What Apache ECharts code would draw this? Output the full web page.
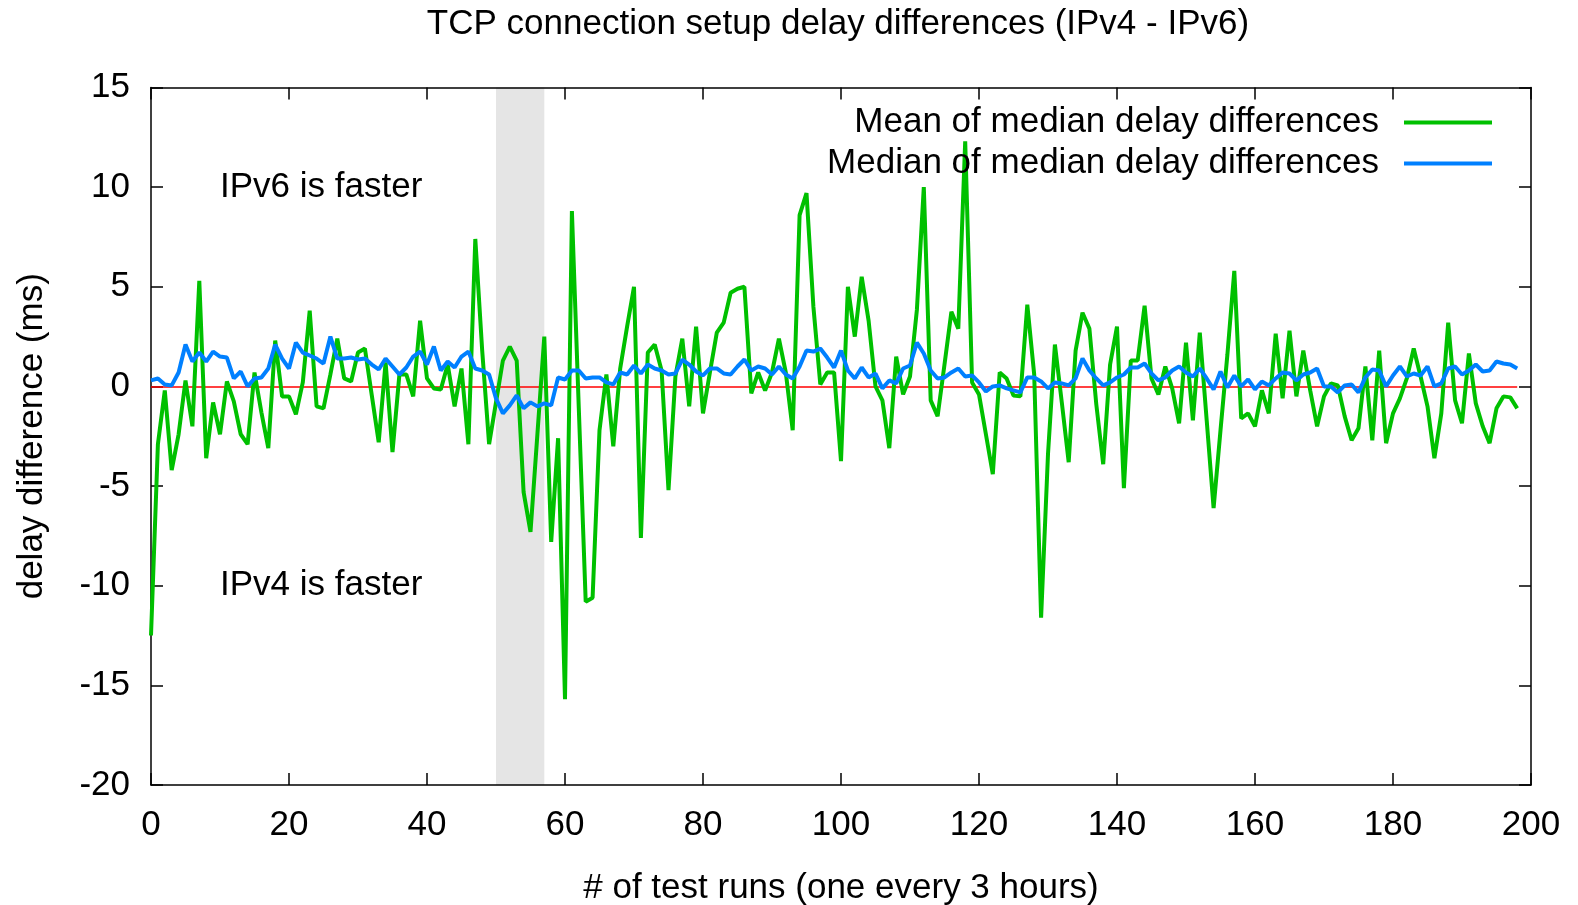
<!DOCTYPE html>
<html>
<head>
<meta charset="utf-8">
<title>TCP connection setup delay differences</title>
<script src="https://cdn.jsdelivr.net/npm/echarts@6/dist/echarts.min.js"></script>
<style>
  html, body { margin: 0; padding: 0; background: #fff; }
  #chart { width: 1578px; height: 905px; }
</style>
</head>
<body>
<div id="chart"></div>
<script>
// mean of the per-run median delay differences (ms), one value per test run
const meanDiff = [
  -12.5, -2.9, -0.2, -4.2, -2.4, 0.3, -2.0, 5.3, -3.6, -0.8,
  -2.4, 0.25, -0.75, -2.4, -2.9, 0.7, -1.3, -3.1, 2.3, -0.5,
  -0.5, -1.4, 0.2, 3.8, -1.0, -1.1, 0.6, 2.4, 0.4, 0.25,
  1.7, 1.9, -0.45, -2.8, 1.2, -3.3, 0.6, 0.6, -0.5, 3.3,
  0.4, -0.1, -0.15, 1.1, -1.0, 0.9, -2.9, 7.4, 1.8, -2.9,
  -0.8, 1.3, 2.0, 1.3, -5.3, -7.3, -2.4, 2.5, -7.8, -2.6,
  -15.7, 8.8, -1.1, -10.8, -10.6, -2.2, 0.6, -3.0, 0.9, 3.0,
  5.0, -7.6, 1.7, 2.1, 0.8, -5.2, 0.5, 2.4, -1.0, 3.0,
  -1.35, 0.7, 2.7, 3.2, 4.7, 4.9, 5.0, -0.35, 0.7, -0.2,
  0.7, 2.4, 0.7, -2.2, 8.6, 9.7, 4.0, 0.1, 0.7, 0.7,
  -3.75, 5.0, 2.5, 5.5, 3.3, 0.0, -0.7, -3.1, 1.5, -0.4,
  0.5, 3.85, 10.0, -0.7, -1.5, 1.1, 3.75, 2.9, 12.3, 0.2,
  -0.4, -2.4, -4.4, 0.7, 0.4, -0.45, -0.5, 4.1, 0.6, -11.6,
  -3.4, 2.1, -0.8, -3.8, 1.8, 3.7, 2.9, -0.9, -3.9, 1.1,
  3.0, -5.1, 1.3, 1.3, 4.05, 0.4, -0.4, 1.0, -0.1, -1.85,
  2.2, -1.7, 2.7, -1.7, -6.1, -2.2, 1.6, 5.8, -1.6, -1.35,
  -2.0, -0.2, -1.35, 2.65, -0.6, 2.8, -0.5, 1.8, -0.2, -2.0,
  -0.5, 0.15, 0.05, -1.5, -2.7, -2.1, 1.0, -2.7, 1.8, -2.85,
  -1.35, -0.6, 0.4, 1.9, 0.5, -1.0, -3.6, -1.35, 3.2, -0.7,
  -1.85, 1.65, -0.85, -2.0, -2.85, -1.1, -0.5, -0.55, -1.1
];

// median of the per-run median delay differences (ms)
const medianDiff = [
  0.3, 0.4, 0.1, 0.05, 0.7, 2.1, 1.25, 1.7, 1.25, 1.75,
  1.5, 1.45, 0.4, 0.75, 0.0, 0.4, 0.45, 0.9, 2.1, 1.4,
  0.9, 2.2, 1.7, 1.55, 1.4, 1.15, 2.5, 1.4, 1.4, 1.45,
  1.35, 1.4, 1.1, 0.85, 1.4, 1.0, 0.6, 0.95, 1.5, 1.75,
  1.1, 2.0, 0.8, 1.25, 0.95, 1.5, 1.75, 0.9, 0.8, 0.6,
  -0.6, -1.35, -0.95, -0.45, -1.1, -0.8, -1.0, -0.85, -0.95, 0.45,
  0.35, 0.8, 0.8, 0.4, 0.45, 0.45, 0.2, 0.1, 0.7, 0.6,
  1.05, 0.65, 1.1, 0.9, 0.8, 0.6, 0.65, 1.35, 1.1, 0.75,
  0.55, 0.9, 0.9, 0.65, 0.6, 1.0, 1.35, 0.8, 1.0, 0.9,
  0.6, 1.0, 0.6, 0.4, 1.0, 1.8, 1.75, 1.9, 1.45, 0.95,
  1.8, 0.8, 0.4, 0.95, 0.45, 0.65, -0.1, 0.3, 0.15, 0.9,
  1.05, 2.2, 1.65, 0.8, 0.4, 0.45, 0.7, 0.9, 0.5, 0.55,
  0.2, -0.25, 0.0, 0.05, -0.1, -0.2, -0.3, 0.45, 0.45, 0.25,
  -0.1, 0.2, 0.15, 0.05, 0.4, 1.4, 0.8, 0.4, 0.05, 0.2,
  0.45, 0.6, 0.95, 0.95, 1.15, 0.65, 0.3, 0.45, 0.8, 1.0,
  0.7, 0.5, 0.9, 0.4, -0.15, 0.75, -0.05, 0.55, 0.0, 0.35,
  -0.15, 0.25, 0.05, 0.4, 0.7, 0.65, 0.3, 0.6, 0.7, 0.9,
  0.0, 0.0, -0.3, 0.05, 0.1, -0.3, 0.45, 0.85, 0.8, 0.0,
  0.55, 1.0, 0.5, 0.65, 0.55, 1.0, 0.0, 0.15, 0.9, 1.0,
  0.6, 0.8, 1.1, 0.75, 0.8, 1.25, 1.15, 1.1, 0.9
];

const seriesNames = ["Mean of median delay differences", "Median of median delay differences"];
const outageRuns = [50, 57]; // grey band: runs with missing IPv6
const notes = [
  { text: "IPv6 is faster", run: 10, delay: 10 },
  { text: "IPv4 is faster", run: 10, delay: -10 },
];

const FONT = '"Liberation Sans", Arial, Helvetica, sans-serif';
const FS = 35;
const lastRun = meanDiff.length - 1;

const chart = echarts.init(document.getElementById("chart"));

function frameAxis(extra) {
  return Object.assign({
    type: "value",
    axisLine: { show: true, onZero: false, lineStyle: { color: "#000", width: 1.5 } },
    axisTick: { show: true, inside: true, length: 12, lineStyle: { color: "#000", width: 1.5 } },
    splitLine: { show: false },
  }, extra);
}

const option = {
  animation: false,
  backgroundColor: "#fff",
  textStyle: { fontFamily: FONT },
  grid: { left: 151, right: 47, top: 87.5, bottom: 120, outerBoundsMode: "none" },
  legend: {
    data: seriesNames,
    orient: "vertical",
    right: 81,
    top: 100,
    align: "right",
    icon: "rect",
    itemWidth: 88,
    itemHeight: 4,
    itemGap: 6,
    textStyle: { fontSize: FS, lineHeight: FS, color: "#000", fontFamily: FONT, padding: [0, 20, 0, 0] },
  },
  xAxis: [
    frameAxis({
      min: 0, max: 200, interval: 20, position: "bottom",
      axisLabel: { color: "#000", fontSize: FS, fontFamily: FONT, margin: 23 },
      name: "# of test runs (one every 3 hours)",
      nameLocation: "middle",
      nameGap: 86,
      nameTextStyle: { color: "#000", fontSize: FS, fontFamily: FONT },
    }),
    frameAxis({ min: 0, max: 200, interval: 20, position: "top", axisLabel: { show: false } }),
  ],
  yAxis: [
    frameAxis({
      min: -20, max: 15, interval: 5, position: "left",
      axisLabel: { color: "#000", fontSize: FS, fontFamily: FONT, margin: 21 },
      name: "delay difference (ms)",
      nameLocation: "middle",
      nameGap: 101,
      nameTextStyle: { color: "#000", fontSize: FS, fontFamily: FONT },
    }),
    frameAxis({ min: -20, max: 15, interval: 5, position: "right", axisLabel: { show: false } }),
  ],
  series: [
    {
      // zero line and grey band
      type: "line",
      data: [],
      silent: true,
      markArea: {
        silent: true,
        z: 0,
        itemStyle: { color: "#e5e5e5" },
        data: [[{ xAxis: outageRuns[0] }, { xAxis: outageRuns[1] }]],
      },
      markLine: {
        silent: true,
        z: 1,
        symbol: "none",
        label: { show: false },
        lineStyle: { color: "#ff0000", width: 1.5, type: "solid" },
        data: [[{ coord: [0, 0] }, { coord: [lastRun, 0] }]],
      },
    },
    {
      name: seriesNames[0],
      type: "line",
      z: 3,
      symbol: "none",
      color: "#00c000",
      lineStyle: { color: "#00c000", width: 4 },
      data: meanDiff.map((v, i) => [i, v]),
    },
    {
      name: seriesNames[1],
      type: "line",
      z: 4,
      symbol: "none",
      color: "#0080ff",
      lineStyle: { color: "#0080ff", width: 4 },
      data: medianDiff.map((v, i) => [i, v]),
    },
  ],
};

chart.setOption(option);

// title plus text labels placed at data coordinates, like gnuplot's "set label"
const texts = [
  {
    type: "text",
    id: "title",
    x: 838,
    y: 24,
    style: {
      text: "TCP connection setup delay differences (IPv4 - IPv6)",
      fontSize: FS, fontFamily: FONT, fill: "#000",
      textAlign: "center", textVerticalAlign: "middle",
    },
  },
];
notes.forEach((n, k) => {
  const p = chart.convertToPixel({ xAxisIndex: 0, yAxisIndex: 0 }, [n.run, n.delay]);
  texts.push({
    type: "text",
    id: "note" + k,
    x: p[0],
    y: p[1],
    style: { text: n.text, fontSize: FS, fontFamily: FONT, fill: "#000", textVerticalAlign: "middle" },
  });
});
chart.setOption({ graphic: texts });
</script>
</body>
</html>
